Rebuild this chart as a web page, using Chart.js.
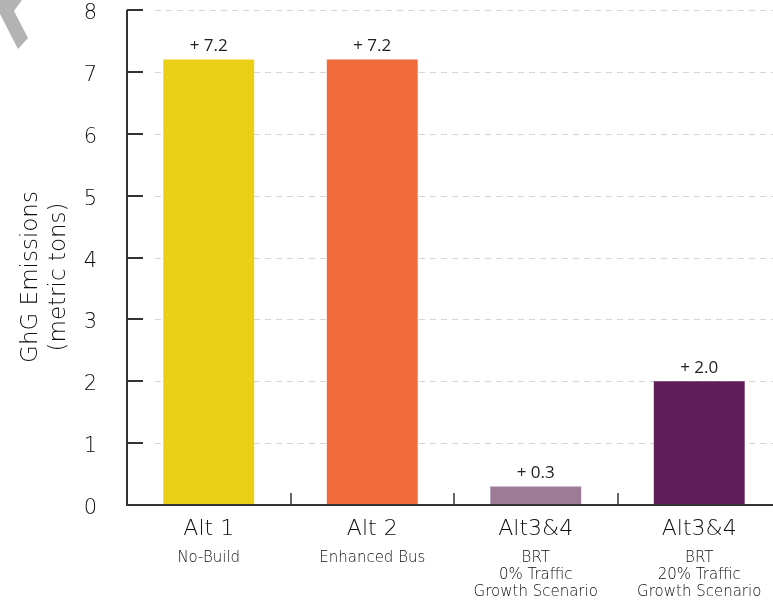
<!DOCTYPE html>
<html>
<head>
<meta charset="utf-8">
<script src="https://cdn.jsdelivr.net/npm/chart.js@4/dist/chart.umd.min.js"></script>
<style>
  html, body { margin: 0; padding: 0; background: #fff; overflow: hidden; }
  #wrap { width: 773px; height: 605px; overflow: hidden; }
</style>
</head>
<body>
<div id="wrap"><canvas id="chart" width="781" height="605"></canvas></div>
<script>
// Chart data
const categories = ['Alt 1', 'Alt 2', 'Alt3&4', 'Alt3&4'];
const subLabels = [['No-Build'], ['Enhanced Bus'], ['BRT', '0% Traffic', 'Growth Scenario'], ['BRT', '20% Traffic', 'Growth Scenario']];
const emissions = [7.2, 7.2, 0.3, 2.0];
const valueLabels = ['+ 7.2', '+ 7.2', '+ 0.3', '+ 2.0'];
const barColors = ['#ebcf15', '#f26b3a', '#9d7a96', '#611f5a'];
const yTicks = [0, 1, 2, 3, 4, 5, 6, 7, 8];
const yTitle = ['GhG Emissions', '(metric tons)'];

const textColor = '#0d0d0d';
const mainFont = '300 {size}px "DejaVu Sans", sans-serif';
const font = size => mainFont.replace('{size}', size);

// draws dashed grid, inner ticks, category ticks, labels and y title
const decorations = {
    id: 'decorations',
    beforeDatasetsDraw(chart) {
        const ctx = chart.ctx;
        const y = chart.scales.y;
        const area = chart.chartArea;
        ctx.save();
        ctx.strokeStyle = '#d6d6d6';
        ctx.lineWidth = 1;
        ctx.setLineDash([6, 5]);
        yTicks.forEach(v => {
            if (v === 0) return;
            const py = Math.round(y.getPixelForValue(v)) + 0.5;
            ctx.beginPath();
            ctx.moveTo(area.left + 28, py);
            ctx.lineTo(area.right, py);
            ctx.stroke();
        });
        ctx.restore();
    },
    afterDatasetsDraw(chart) {
        const ctx = chart.ctx;
        const x = chart.scales.x;
        const y = chart.scales.y;
        const area = chart.chartArea;
        ctx.save();

        // axis lines
        ctx.strokeStyle = '#333';
        ctx.lineWidth = 2;
        ctx.beginPath();
        ctx.moveTo(area.left, area.top);
        ctx.lineTo(area.left, area.bottom);
        ctx.lineTo(area.right, area.bottom);
        ctx.stroke();

        // y ticks pointing inward + their labels
        ctx.fillStyle = textColor;
        ctx.font = font(21);
        ctx.textAlign = 'right';
        ctx.textBaseline = 'middle';
        yTicks.forEach(v => {
            const py = Math.round(y.getPixelForValue(v));
            ctx.beginPath();
            ctx.moveTo(area.left, py);
            ctx.lineTo(area.left + 16, py);
            ctx.stroke();
            ctx.fillText(String(v), area.left - 30, py + 4);
        });

        // category separator ticks
        ctx.lineWidth = 1.5;
        for (let i = 0; i < categories.length - 1; i++) {
            const px = Math.round((x.getPixelForValue(i) + x.getPixelForValue(i + 1)) / 2);
            ctx.beginPath();
            ctx.moveTo(px, area.bottom);
            ctx.lineTo(px, area.bottom - 12);
            ctx.stroke();
        }

        // value labels
        ctx.fillStyle = '#222';
        ctx.textAlign = 'center';
        ctx.textBaseline = 'bottom';
        ctx.font = '17px "Open Sans", sans-serif';
        const meta = chart.getDatasetMeta(0);
        meta.data.forEach((bar, i) => {
            ctx.fillText(valueLabels[i], bar.x, bar.y - 5);
        });

        // sub labels
        ctx.fillStyle = textColor;
        ctx.font = font(15);
        ctx.textBaseline = 'middle';
        subLabels.forEach((lines, i) => {
            const px = x.getPixelForValue(i);
            lines.forEach((t, j) => {
                ctx.fillText(t, px, area.bottom + 53 + j * 17);
            });
        });

        // y title
        ctx.font = font(23);
        ctx.translate(0, 277);
        ctx.rotate(-Math.PI / 2);
        yTitle.forEach((t, j) => ctx.fillText(t, 0, 31 + j * 28));
        ctx.restore();

        // grey corner mark
        ctx.save();
        ctx.fillStyle = '#b3b3b3';
        ctx.beginPath();
        ctx.moveTo(0, 0);
        ctx.lineTo(22, 0);
        ctx.lineTo(14, 11);
        ctx.lineTo(28, 38);
        ctx.lineTo(18, 49);
        ctx.lineTo(0, 14);
        ctx.closePath();
        ctx.fill();
        ctx.restore();
    }
};

new Chart(document.getElementById('chart'), {
    type: 'bar',
    data: {
        labels: categories,
        datasets: [{
            data: emissions,
            backgroundColor: barColors,
            borderWidth: 0,
            categoryPercentage: 1,
            barPercentage: 0.556
        }]
    },
    options: {
        responsive: false,
        animation: false,
        layout: { padding: { top: 10, left: 0, right: 0, bottom: 0 } },
        plugins: {
            legend: { display: false },
            tooltip: { enabled: false }
        },
        scales: {
            x: {
                grid: { display: false, drawTicks: false },
                border: { display: false },
                ticks: {
                    color: textColor,
                    font: { family: '"DejaVu Sans", sans-serif', size: 22, weight: 300 },
                    padding: 11,
                    maxRotation: 0
                },
                afterFit(scale) {
                    scale.height = 100;
                    scale.paddingLeft = 0;
                    scale.paddingRight = 0;
                }
            },
            y: {
                min: 0,
                max: 8,
                grid: { display: false, drawTicks: false },
                border: { display: false },
                ticks: { stepSize: 1, display: false },
                afterFit(scale) {
                    scale.width = 127;
                    scale.paddingTop = 0;
                    scale.paddingBottom = 0;
                }
            }
        }
    },
    plugins: [decorations]
});
</script>
</body>
</html>
